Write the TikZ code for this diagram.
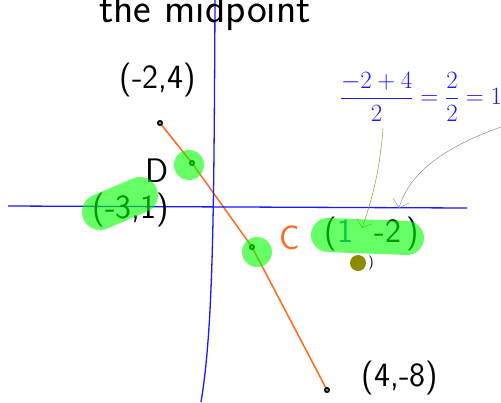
\documentclass[tikz,border=0pt]{standalone}
\usepackage{tikz}
\usetikzlibrary{arrows.meta,positioning,backgrounds}
\definecolor{hilite}{HTML}{00FF00}
\definecolor{axisblue}{HTML}{1A1AFF}
\definecolor{segorange}{HTML}{FF6A1A}
\definecolor{inkolive}{HTML}{8C8C00}
\definecolor{inkteal}{HTML}{1A7F9F}

\begin{document}
\begin{tikzpicture}[>=Stealth, x=1pt, y=-1pt]
\tikzstyle{ink}=[font=\sffamily\fontsize{34}{34}\selectfont, inner sep=0pt]
\tikzstyle{dot}=[circle,draw=black,line width=1.4pt,fill=black!50,inner sep=1.6pt]
\tikzstyle{hl}=[hilite,opacity=0.6,line cap=round]
\tikzstyle{barb}=[-{Straight Barb[length=7pt,width=16pt]}]
\useasboundingbox (0,0) rectangle (501,402);
% axes
\draw[axisblue, line width=1.3pt] (215,0) .. controls (214,220) and (213,330) .. (201,402);
\draw[axisblue, line width=1.3pt] (8,206) -- (467,208);
\node[ink, anchor=base, font=\sffamily\fontsize{42}{42}\selectfont] (title) at (205,22) {the midpoint};
% points on the segment
\node[dot] (p1) at (160,123) {};
\node[dot] (d) at (192,163) {};
\node[dot] (c) at (252,247) {};
\node[dot] (p2) at (327,390) {};
\begin{pgfonlayer}{background}
\fill[white] (0,0) rectangle (501,402);
\draw[segorange, line width=1.5pt] (p1.center) -- (d.center) -- (c.center) -- (p2.center);
\end{pgfonlayer}
% labels
\node[ink] (l1) at (158,80) {(-2,4)};
\node[ink] (ld) at (157,171) {D};
\node[ink] (l3) at (131,210) {(-3,1)};
\node[ink, segorange] (lc) at (290,238) {C};
\node[ink] (lm) at (372,234) {(\textcolor{inkteal}{1}\ \ -2\,)};
\node[ink] (l2) at (400,378) {(4,-8)};
\node[ink, axisblue, font=\fontsize{24}{24}\selectfont] (f) at (421,97) {$\displaystyle\frac{-2+4}{2}=\frac{2}{2}=1$};
\node[circle, fill=inkolive, inner sep=0pt, minimum size=16pt] (o) at (358,263) {};
\node[ink, font=\sffamily\fontsize{14}{14}\selectfont, right=2pt of o] (oc) {)};
% arrows
\coordinate (ot) at (383,128);
\coordinate (oe) at (362,228);
\draw[inkolive, barb] (ot) .. controls (380,170) and (372,200) .. (oe);
\coordinate (gt) at (501,127);
\coordinate (ge) at (399,208);
\draw[gray, barb] (gt) .. controls (450,145) and (410,170) .. (ge);
% highlighter
\draw[hl, line width=36pt] (100,212) -- (140,195);
\draw[hl, line width=34pt] (328,235) -- (407,238);
\fill[hl] (189,165) circle (15);
\fill[hl] (257,252) circle (15);
\end{tikzpicture}
\end{document}
